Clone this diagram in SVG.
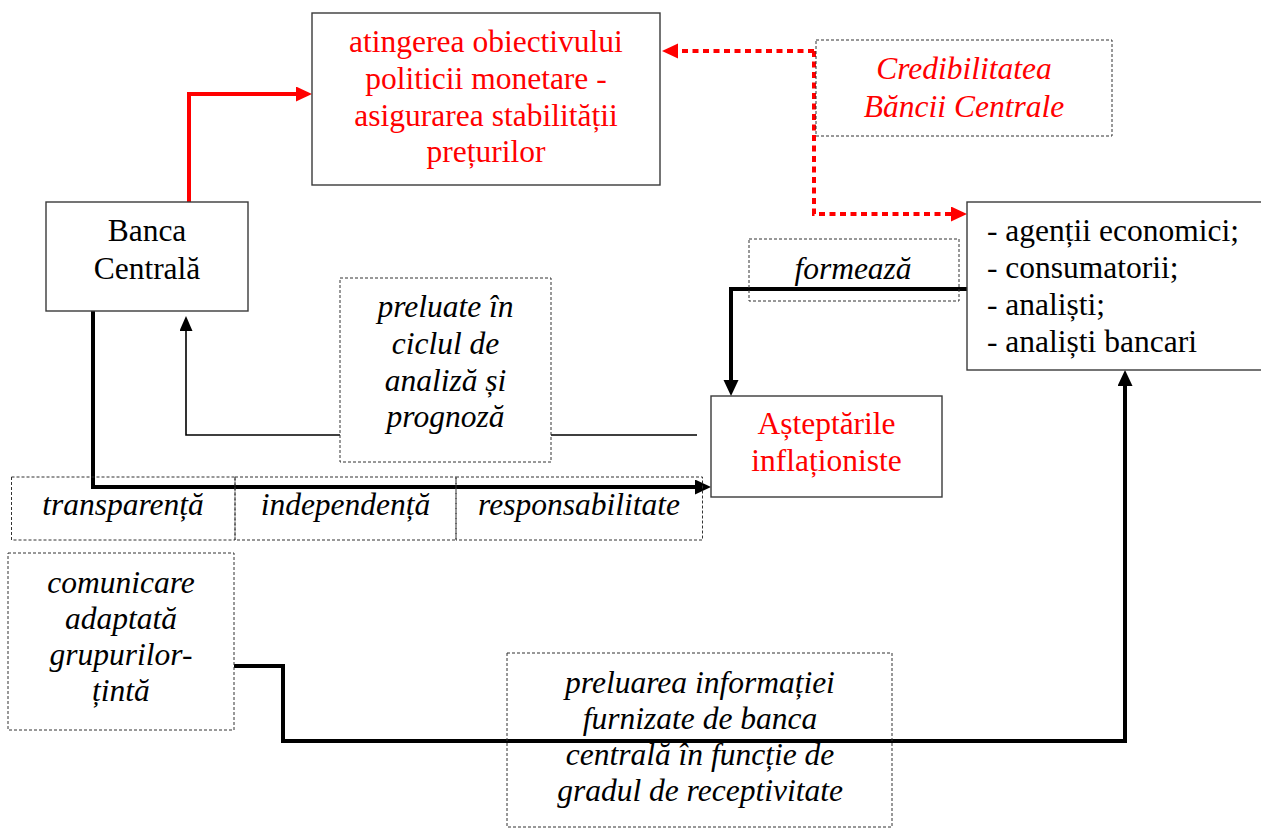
<svg xmlns="http://www.w3.org/2000/svg" width="1261" height="829" viewBox="0 0 1261 829">
  <style>
    .box { fill: #ffffff; stroke: #3a3a3a; stroke-width: 1.4; }
    .dbox { fill: none; stroke: #333333; stroke-width: 1; stroke-dasharray: 3 2; }
    .dboxw { fill: #ffffff; stroke: #333333; stroke-width: 1; stroke-dasharray: 3 2; }
    text { font-family: "Liberation Serif", "Times New Roman", serif; font-size: 31.5px; fill: #000000; }
    .c { text-anchor: middle; }
    .i { font-style: italic; }
    .red { fill: #ff0000; }
    .thick { fill: none; stroke: #000000; stroke-width: 4; }
    .thin { fill: none; stroke: #000000; stroke-width: 1.6; }
    .redline { fill: none; stroke: #ff0000; stroke-width: 4; }
    .reddot { fill: none; stroke: #ff0000; stroke-width: 4; stroke-dasharray: 6 4.5; }
  </style>
  <defs>
    <marker id="arrRed" markerUnits="userSpaceOnUse" markerWidth="16" markerHeight="16" refX="0" refY="7.5" orient="auto">
      <path d="M0,0 L16,7.5 L0,15 z" fill="#ff0000"/>
    </marker>
    <marker id="arrBlack" markerUnits="userSpaceOnUse" markerWidth="17" markerHeight="16" refX="0" refY="7.5" orient="auto">
      <path d="M0,0 L16,7.5 L0,15 z" fill="#000000"/>
    </marker>
    <marker id="arrThin" markerUnits="userSpaceOnUse" markerWidth="16" markerHeight="14" refX="0" refY="6.5" orient="auto">
      <path d="M0,0 L15,6.5 L0,13 z" fill="#000000"/>
    </marker>
  </defs>

  <!-- connectors -->
  <g id="connectors">
    <!-- Banca Centrala -> objective -->
    <path class="redline" d="M189,202 V94 H296" marker-end="url(#arrRed)"/>
    <!-- credibility -> objective and -> economic agents -->
    <path class="reddot" d="M814,51 H678" marker-end="url(#arrRed)"/>
    <path class="reddot" d="M814,51 V214 H951" marker-end="url(#arrRed)"/>
    <!-- agents -> inflation expectations -->
    <path class="thick" d="M968,289 H731 V380" marker-end="url(#arrBlack)"/>
    <!-- expectations -> Banca Centrala (analysis cycle) -->
    <path class="thin" d="M697,435 H186 V331" marker-end="url(#arrThin)"/>
    <!-- Banca Centrala -> expectations -->
    <path class="thick" d="M93,311 V487 H695" marker-end="url(#arrBlack)"/>
    <!-- communication -> agents -->
    <path class="thick" d="M234,666 H283 V741 H1125 V386" marker-end="url(#arrBlack)"/>
  </g>

  <g id="obiectiv">
    <rect class="box" x="312" y="13" width="348" height="172"/>
    <text class="c red" x="486" y="52">atingerea obiectivului</text>
    <text class="c red" x="486" y="89">politicii monetare -</text>
    <text class="c red" x="486" y="125.5">asigurarea stabilității</text>
    <text class="c red" x="486" y="162">prețurilor</text>
  </g>

  <g id="credibilitate">
    <rect class="dboxw" x="816" y="40" width="296" height="96"/>
    <text class="c i red" x="964" y="79">Credibilitatea</text>
    <text class="c i red" x="964" y="117">Băncii Centrale</text>
  </g>

  <g id="banca">
    <rect class="box" x="46" y="202" width="202" height="109"/>
    <text class="c" x="147" y="241">Banca</text>
    <text class="c" x="147" y="278.5">Centrală</text>
  </g>

  <g id="agenti">
    <rect class="box" x="967" y="202" width="300" height="168"/>
    <text x="987" y="240.5">- agenții economici;</text>
    <text x="987" y="277.5">- consumatorii;</text>
    <text x="987" y="315">- analiști;</text>
    <text x="987" y="352">- analiști bancari</text>
  </g>

  <g id="formeaza">
    <rect class="dbox" x="749" y="239" width="210" height="62"/>
    <text class="c i" x="853" y="279">formează</text>
  </g>

  <g id="preluate">
    <rect class="dboxw" x="340" y="278" width="211" height="184"/>
    <text class="c i" x="445.5" y="317">preluate în</text>
    <text class="c i" x="445.5" y="354">ciclul de</text>
    <text class="c i" x="445.5" y="391">analiză și</text>
    <text class="c i" x="445.5" y="427">prognoză</text>
  </g>

  <g id="asteptari">
    <rect class="box" x="711" y="396" width="231" height="101"/>
    <text class="c red" x="826.5" y="434">Așteptările</text>
    <text class="c red" x="826.5" y="471">inflaționiste</text>
  </g>

  <g id="transparenta">
    <rect class="dbox" x="11.5" y="477" width="223.5" height="63"/>
    <text class="c i" x="123" y="515">transparență</text>
  </g>
  <g id="independenta">
    <rect class="dbox" x="235" y="477" width="221" height="63"/>
    <text class="c i" x="345.5" y="515">independență</text>
  </g>
  <g id="responsabilitate">
    <rect class="dbox" x="456" y="477" width="246.5" height="63"/>
    <text class="c i" x="579" y="515">responsabilitate</text>
  </g>

  <g id="comunicare">
    <rect class="dboxw" x="8" y="553" width="226" height="177"/>
    <text class="c i" x="121" y="593">comunicare</text>
    <text class="c i" x="121" y="629">adaptată</text>
    <text class="c i" x="121" y="665">grupurilor-</text>
    <text class="c i" x="121" y="701">țintă</text>
  </g>

  <g id="preluarea">
    <rect class="dbox" x="507" y="653" width="385" height="174"/>
    <text class="c i" x="700" y="693">preluarea informației</text>
    <text class="c i" x="700" y="729">furnizate de banca</text>
    <text class="c i" x="700" y="765">centrală în funcție de</text>
    <text class="c i" x="700" y="801">gradul de receptivitate</text>
  </g>
</svg>
